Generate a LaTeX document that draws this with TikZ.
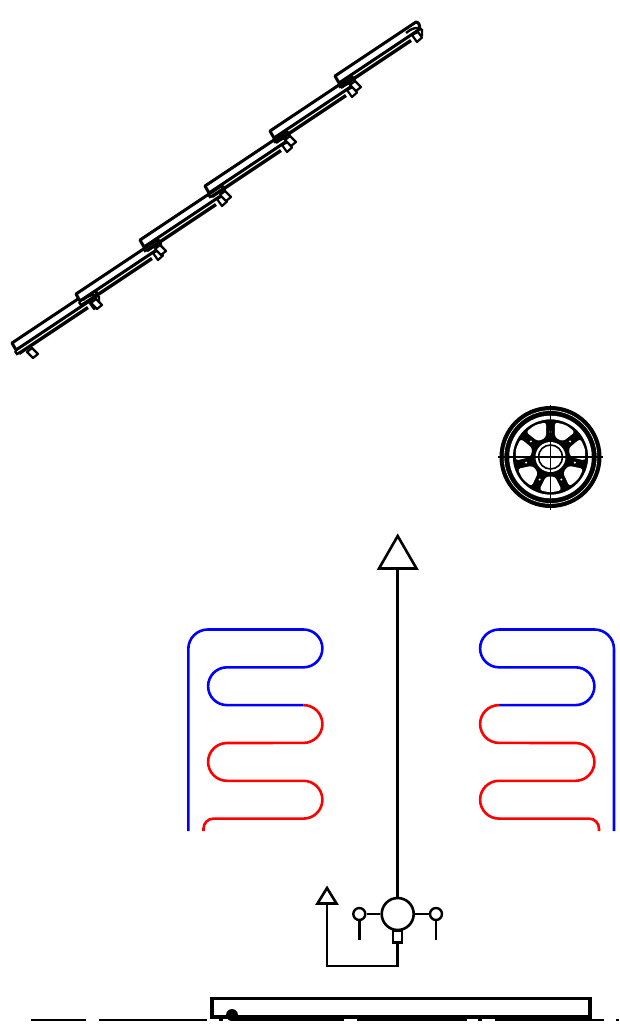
\documentclass[tikz,border=0pt]{standalone}
\usetikzlibrary{calc}
\definecolor{coilblue}{RGB}{0,0,255}
\definecolor{coilred}{RGB}{255,0,0}
\tikzset{
  coilline/.style={line width=2.6pt,line cap=butt},
  pipeline/.style={line width=2.6pt,black},
  ground/.style={line width=1.8pt,black},
  valvebody/.style={circle,draw,line width=2.6pt,minimum size=32pt,inner sep=0pt},
  gauge/.style={circle,draw,line width=2.4pt,minimum size=12pt,inner sep=0pt},
  smallbox/.style={rectangle,draw,line width=2.4pt,minimum width=9pt,minimum height=12pt,inner sep=0pt},
  railbar/.style={draw=black,fill=white,line width=3pt,line join=round},
  railtab/.style={draw=black,fill=white,line width=2.2pt,line join=round},
}
\begin{document}
\begin{tikzpicture}[x=1pt,y=1pt,yscale=-1]
\useasboundingbox (0,0) rectangle (619,1034);
% --- rail ---
\foreach \sx/\sy in {12/343,76/294,140/240,205/186,270/131,335/76}{
  \begin{scope}[shift={(\sx,\sy)}]
    \draw[railtab] (15,9) -- (20,5) -- (26,11) -- (21,15) -- cycle;
    \draw[line width=2.4pt] (3,8) -- (5,11) -- (9,9);
    \draw[line width=3.4pt] (7,10.5) -- (76,-35.5);
    \draw[railbar] (0,0) -- (81,-54) .. controls (84,-54) and (85,-50) .. (85,-47) -- (4,7) -- cycle;
    \draw[railtab] (77,-41) -- (82,-34) -- (87,-38.5) -- (83,-44) -- cycle;
    \draw[line width=2.4pt] (71,-43) .. controls (76,-48) and (85,-50) .. (87,-46) -- (87,-40);
  \end{scope}
}
% --- wheel ---
\coordinate (wc) at (550.5,457);
\fill[black] (wc) circle[radius=51];
\draw[white,line width=0.6pt] (wc) circle[radius=46.5];
\draw[white,line width=3.6pt] (wc) circle[radius=39.5];
\foreach \k in {0,...,6}{
  \pgfmathsetmacro{\a}{-90+51.43*\k+7}
  \pgfmathsetmacro{\b}{-90+51.43*\k+44.4}
  \pgfmathsetmacro{\c}{-90+51.43*\k+13}
  \pgfmathsetmacro{\d}{-90+51.43*\k+38.4}
  \pgfmathsetmacro{\h}{-90+51.43*\k}
  \fill[white,rounded corners=3pt] ($(wc)+(\a:35)$) -- ($(wc)+(\a+18.7:35.5)$) -- ($(wc)+(\b:35)$) -- ($(wc)+(\d:20)$) -- ($(wc)+(\c:20)$) -- cycle;
  \fill[white] ($(wc)+(\h:25)$) circle[radius=1.1];
}
\fill[white] (wc) circle[radius=15];
\draw[line width=1.6pt] (wc) circle[radius=12];
\draw[line width=1.6pt] (498,457) -- (603,457);
\draw[line width=1.6pt] (550.5,405) -- (550.5,510);
% --- coils ---
\draw[coilline,coilblue] (188.3,831) -- (188.3,649) arc[start angle=180,end angle=270,radius=19.5]
  -- (303.5,629.5) arc[start angle=-90,end angle=90,radius=18.9]
  -- (227,667.3) arc[start angle=270,end angle=90,radius=18.9] -- (303.5,705.1);
\draw[coilline,coilred] (303.5,705.1) arc[start angle=-90,end angle=90,radius=18.9]
  -- (227,743) arc[start angle=270,end angle=90,radius=18.9]
  -- (303.5,780.8) arc[start angle=-90,end angle=90,radius=18.9]
  -- (213.5,818.6) arc[start angle=270,end angle=180,radius=10] -- (203.5,831);
\draw[coilline,coilblue] (614,831) -- (614,649) arc[start angle=0,end angle=-90,radius=19.5]
  -- (499,629.5) arc[start angle=270,end angle=90,radius=18.9]
  -- (575.5,667.3) arc[start angle=-90,end angle=90,radius=18.9] -- (499,705.1);
\draw[coilline,coilred] (499,705.1) arc[start angle=270,end angle=90,radius=18.9]
  -- (575.5,743) arc[start angle=-90,end angle=90,radius=18.9]
  -- (499,780.8) arc[start angle=270,end angle=90,radius=18.9]
  -- (589,818.6) arc[start angle=-90,end angle=0,radius=10] -- (599,831);
% --- valve group ---
\node[valvebody] (valve) at (397.7,914) {};
\node[gauge] (gaugeL) at (359.3,914) {};
\node[gauge] (gaugeR) at (436,914) {};
\node[smallbox] (drain) at (397.7,936.5) {};
\coordinate (stemL) at (359.3,940);
\coordinate (stemR) at (436,940);
\coordinate (bigtip) at (397.7,536);
\coordinate (bigbase) at (397.7,568.5);
\coordinate (smalltip) at (327,888);
\coordinate (smallbase) at (327,903.5);
\coordinate (elbowA) at (397.7,966);
\coordinate (elbowB) at (327,966);
\draw[pipeline] (valve) -- (bigbase);
\draw[pipeline,line join=miter] (bigtip) -- (416.5,568.5) -- (379,568.5) -- cycle;
\draw[pipeline] (valve) -- (gaugeL);
\draw[pipeline] (valve) -- (gaugeR);
\draw[pipeline] (gaugeL) -- (stemL);
\draw[pipeline] (gaugeR) -- (stemR);
\draw[pipeline] (drain) -- (elbowA) -- (elbowB) -- (smallbase);
\draw[pipeline,line join=miter] (smalltip) -- (336.5,903.5) -- (317.5,903.5) -- cycle;
% --- ground and bar ---
\foreach \p/\q in {31/86,99/207,219/223,232/344,357/467,478/482,495/604,616/619}{
  \draw[ground] (\p,1020) -- (\q,1020);
}
\draw[line width=3.6pt,line join=miter] (212,998.5) rectangle (590,1017);
\draw[line width=1.8pt] (590.8,998) -- (590.8,1017);
\fill (232,1015) circle[radius=6];
\end{tikzpicture}
\end{document}
